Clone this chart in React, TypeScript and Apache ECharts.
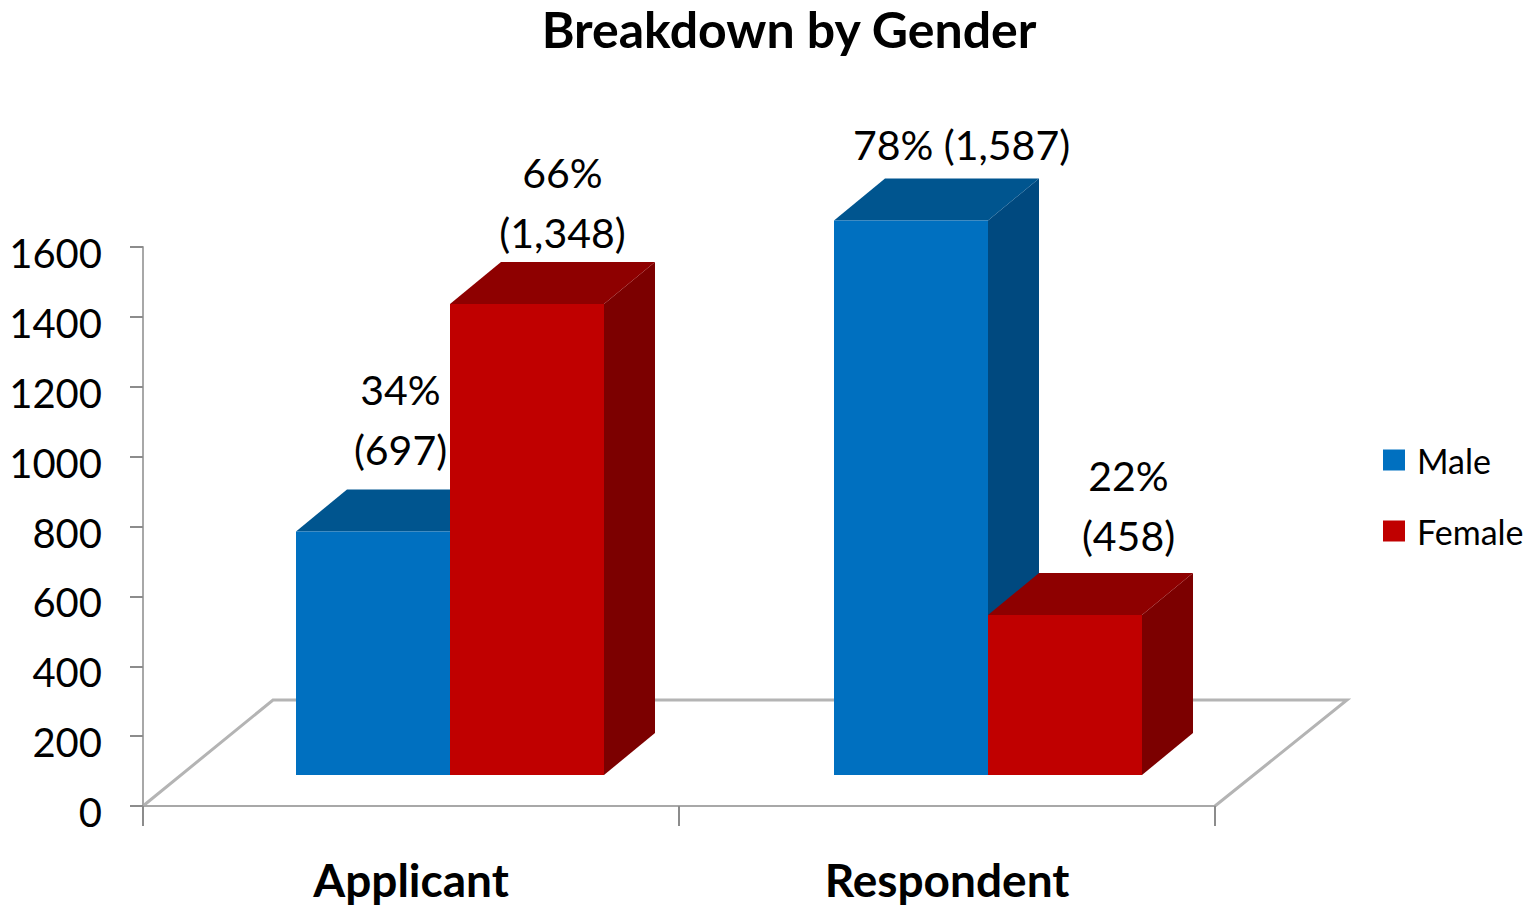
import React, { useEffect, useRef } from "react";
import * as echarts from "echarts";

const title = "Breakdown by Gender";
const categories = ["Applicant", "Respondent"];
const maleValues = [697, 1587];
const femaleValues = [1348, 458];
const maleLabels = ["34%\n(697)", "78% (1,587)"];
const femaleLabels = ["66%\n(1,348)", "22%\n(458)"];
const yTicks = { min: 0, max: 1600, interval: 200 };

const FONT = "Lato";
const GRID = { left: 143, top: 247, width: 1072, height: 559 };
const DEPTH_X = 51;
const DEPTH_Y = 42;
const FRONT_LIFT = 31;
const BAR_WIDTH = 154;
const GROUP_SHIFT = [39, 41];

const MALE = { front: "#0070c0", top: "#00558f", side: "#00497f" };
const FEMALE = { front: "#c00000", top: "#8e0000", side: "#7c0000" };

const maleNudge = [[2, -10], [25, -4]];
const femaleNudge = [[10, 0], [38, -7]];

function bar3d(labels: string[], palette: typeof MALE, side: number, nudge: number[][]) {
  return (_params: any, api: any) => {
    const idx = api.value(0);
    const [cx, yTop] = api.coord([idx, api.value(1)]);
    const [, yBase] = api.coord([idx, 0]);
    const x0 = cx + GROUP_SHIFT[idx] + (side < 0 ? -BAR_WIDTH : 0);
    const x1 = x0 + BAR_WIDTH;
    const top = yTop - FRONT_LIFT;
    const bottom = yBase - FRONT_LIFT;
    const poly = (points: number[][], fill: string) => ({
      type: "polygon",
      shape: { points },
      style: { fill },
    });
    return {
      type: "group",
      children: [
        poly(
          [[x1, top], [x1 + DEPTH_X, top - DEPTH_Y], [x1 + DEPTH_X, bottom - DEPTH_Y], [x1, bottom]],
          palette.side,
        ),
        poly(
          [[x0, top], [x0 + DEPTH_X, top - DEPTH_Y], [x1 + DEPTH_X, top - DEPTH_Y], [x1, top]],
          palette.top,
        ),
        { type: "rect", shape: { x: x0, y: top, width: BAR_WIDTH, height: bottom - top }, style: { fill: palette.front } },
        {
          type: "text",
          x: (x0 + x1 + DEPTH_X) / 2 + nudge[idx][0],
          y: top - DEPTH_Y + nudge[idx][1],
          style: {
            text: labels[idx],
            fill: "#000",
            font: `400 41px ${FONT}`,
            lineHeight: 60,
            align: "center",
            verticalAlign: "bottom",
          },
        },
      ],
    };
  };
}

export default function App() {
  const ref = useRef<HTMLDivElement>(null);
  useEffect(() => {
    const chart = echarts.init(ref.current!, null, { renderer: "svg" });
    chart.setOption({
      animation: false,
      backgroundColor: "#fff",
      title: {
        text: title,
        left: 789,
        top: 2,
        padding: 0,
        textAlign: "center",
        textStyle: { fontFamily: FONT, fontWeight: 700, fontSize: 50, lineHeight: 54, color: "#000" },
      },
      legend: {
        left: 1378,
        top: 438,
        orient: "vertical",
        icon: "rect",
        itemWidth: 22,
        itemHeight: 21,
        itemGap: 37,
        data: ["Male", "Female"],
        textStyle: { fontFamily: FONT, fontSize: 34, color: "#000", padding: [0, 0, 0, 7] },
      },
      grid: { ...GRID, containLabel: false, outerBoundsMode: "none" },
      xAxis: {
        type: "category",
        data: categories,
        axisLine: { lineStyle: { color: "#a8a8a8", width: 2 } },
        axisTick: { show: true, length: 20, lineStyle: { color: "#8c8c8c", width: 2 } },
        axisLabel: { margin: 50, color: "#000", fontFamily: FONT, fontWeight: 700, fontSize: 46, lineHeight: 46 },
      },
      yAxis: {
        type: "value",
        ...yTicks,
        splitLine: { show: false },
        axisLine: { show: true, lineStyle: { color: "#a8a8a8", width: 2 } },
        axisTick: { show: true, length: 13, lineStyle: { color: "#8c8c8c", width: 2 } },
        axisLabel: {
          margin: 41,
          color: "#000",
          fontFamily: FONT,
          fontSize: 40,
          verticalAlign: "top",
          lineHeight: 12,
          formatter: (v: number) => String(v),
        },
      },
      graphic: [
        {
          type: "polyline",
          z: 0,
          shape: {
            points: [
              [GRID.left, GRID.top + GRID.height],
              [273, 700],
              [1347, 700],
              [GRID.left + GRID.width, GRID.top + GRID.height],
            ],
          },
          style: { stroke: "#b4b4b4", lineWidth: 3, fill: "none" },
        },
      ],
      series: [
        {
          name: "Male",
          type: "custom",
          itemStyle: { color: MALE.front },
          data: maleValues.map((v, i) => [i, v]),
          encode: { x: 0, y: 1 },
          renderItem: bar3d(maleLabels, MALE, -1, maleNudge),
        },
        {
          name: "Female",
          type: "custom",
          itemStyle: { color: FEMALE.front },
          data: femaleValues.map((v, i) => [i, v]),
          encode: { x: 0, y: 1 },
          renderItem: bar3d(femaleLabels, FEMALE, 1, femaleNudge),
        },
      ],
    });
    return () => chart.dispose();
  }, []);
  return <div ref={ref} style={{ position: "absolute", left: 0, top: 0, width: 1536, height: 906 }} />;
}
